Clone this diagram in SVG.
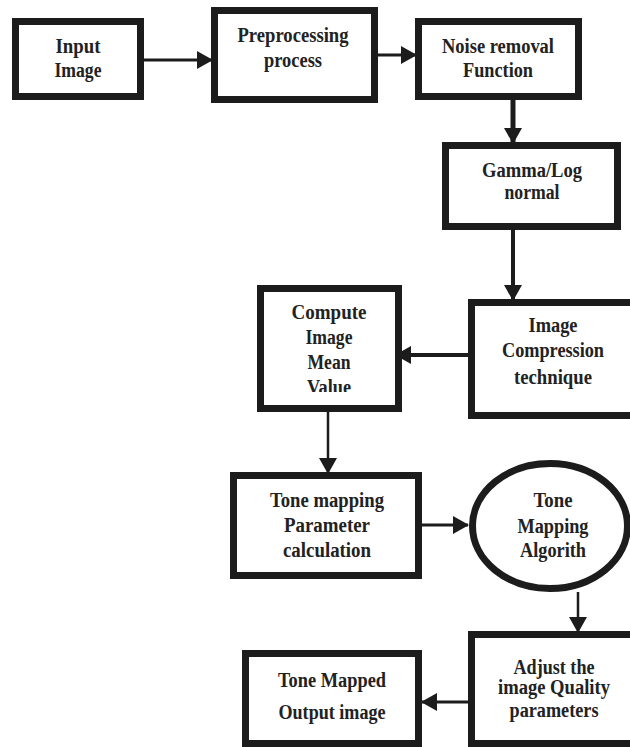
<svg xmlns="http://www.w3.org/2000/svg" width="630" height="747" viewBox="0 0 630 747">
<style>
.box{fill:#fff;stroke:#1c1c1c;stroke-width:7}
.lbl{font-family:"Liberation Serif","Times New Roman",serif;font-weight:bold;font-size:20px;fill:#222;text-anchor:middle}
.con{stroke:#1c1c1c;fill:none}
</style>
<defs>
<marker id="ah" viewBox="0 0 16 18" refX="15" refY="9" markerWidth="16" markerHeight="18" markerUnits="userSpaceOnUse" orient="auto">
<path d="M0,0 L16,9 L0,18 z" fill="#1c1c1c"/>
</marker>
<clipPath id="clipValue"><rect x="260" y="290" width="140" height="102"/></clipPath>
</defs>
<rect width="630" height="747" fill="#fff"/>
<g id="connectors">
<line class="con" x1="144" y1="60" x2="212" y2="60" stroke-width="3" marker-end="url(#ah)"/>
<line class="con" x1="378" y1="55" x2="416" y2="55" stroke-width="3" marker-end="url(#ah)"/>
<line class="con" x1="513" y1="100" x2="513" y2="143" stroke-width="5" marker-end="url(#ah)"/>
<line class="con" x1="513" y1="229" x2="513" y2="300" stroke-width="4" marker-end="url(#ah)"/>
<line class="con" x1="468" y1="355" x2="396" y2="355" stroke-width="4" marker-end="url(#ah)"/>
<line class="con" x1="328" y1="412" x2="328" y2="473" stroke-width="2.5" marker-end="url(#ah)"/>
<line class="con" x1="422" y1="525" x2="468" y2="525" stroke-width="3" marker-end="url(#ah)"/>
<line class="con" x1="578" y1="592" x2="578" y2="632" stroke-width="2.5" marker-end="url(#ah)"/>
<line class="con" x1="468" y1="702" x2="422" y2="702" stroke-width="3" marker-end="url(#ah)"/>
</g>
<g id="input">
<rect class="box" x="15.5" y="21.5" width="125" height="75"/>
<text class="lbl" x="78" y="53" textLength="45" lengthAdjust="spacingAndGlyphs">Input</text>
<text class="lbl" x="78" y="77" textLength="47" lengthAdjust="spacingAndGlyphs">Image</text>
</g>
<g id="preprocessing">
<rect class="box" x="214.5" y="10.5" width="160" height="89"/>
<text class="lbl" x="293" y="42" textLength="111" lengthAdjust="spacingAndGlyphs">Preprocessing</text>
<text class="lbl" x="293" y="67" textLength="58" lengthAdjust="spacingAndGlyphs">process</text>
</g>
<g id="noise">
<rect class="box" x="418.5" y="21.5" width="160" height="75"/>
<text class="lbl" x="498" y="53" textLength="112" lengthAdjust="spacingAndGlyphs">Noise removal</text>
<text class="lbl" x="498" y="77" textLength="70" lengthAdjust="spacingAndGlyphs">Function</text>
</g>
<g id="gamma">
<rect class="box" x="445.5" y="145.5" width="172" height="81"/>
<text class="lbl" x="532" y="177" textLength="100" lengthAdjust="spacingAndGlyphs">Gamma/Log</text>
<text class="lbl" x="532" y="199" textLength="55" lengthAdjust="spacingAndGlyphs">normal</text>
</g>
<g id="compression">
<rect class="box" x="471.5" y="302.5" width="165" height="113"/>
<text class="lbl" x="553" y="332" textLength="49" lengthAdjust="spacingAndGlyphs">Image</text>
<text class="lbl" x="553" y="357" textLength="102" lengthAdjust="spacingAndGlyphs">Compression</text>
<text class="lbl" x="553" y="384" textLength="78" lengthAdjust="spacingAndGlyphs">technique</text>
</g>
<g id="compute">
<rect class="box" x="260.5" y="288.5" width="138" height="120"/>
<text class="lbl" x="329" y="319" textLength="75" lengthAdjust="spacingAndGlyphs">Compute</text>
<text class="lbl" x="329" y="344" textLength="47" lengthAdjust="spacingAndGlyphs">Image</text>
<text class="lbl" x="329" y="369" textLength="43" lengthAdjust="spacingAndGlyphs">Mean</text>
<text class="lbl" x="329" y="394" textLength="44" lengthAdjust="spacingAndGlyphs" clip-path="url(#clipValue)">Value</text>
</g>
<g id="toneparam">
<rect class="box" x="233.5" y="475.5" width="185" height="100"/>
<text class="lbl" x="327" y="507" textLength="114" lengthAdjust="spacingAndGlyphs">Tone mapping</text>
<text class="lbl" x="327" y="532" textLength="86" lengthAdjust="spacingAndGlyphs">Parameter</text>
<text class="lbl" x="327" y="557" textLength="88" lengthAdjust="spacingAndGlyphs">calculation</text>
</g>
<g id="algorithm">
<ellipse class="box" cx="550" cy="526" rx="77.5" ry="62.5"/>
<text class="lbl" x="553" y="507" textLength="39" lengthAdjust="spacingAndGlyphs">Tone</text>
<text class="lbl" x="553" y="533" textLength="71" lengthAdjust="spacingAndGlyphs">Mapping</text>
<text class="lbl" x="553" y="557" textLength="66" lengthAdjust="spacingAndGlyphs">Algorith</text>
</g>
<g id="adjust">
<rect class="box" x="471.5" y="634.5" width="165" height="109"/>
<text class="lbl" x="554" y="674" textLength="81" lengthAdjust="spacingAndGlyphs">Adjust the</text>
<text class="lbl" x="554" y="694" textLength="112" lengthAdjust="spacingAndGlyphs">image Quality</text>
<text class="lbl" x="554" y="717" textLength="89" lengthAdjust="spacingAndGlyphs">parameters</text>
</g>
<g id="output">
<rect class="box" x="245.5" y="653.5" width="173" height="90"/>
<text class="lbl" x="332" y="687" textLength="108" lengthAdjust="spacingAndGlyphs">Tone Mapped</text>
<text class="lbl" x="332" y="719" textLength="107" lengthAdjust="spacingAndGlyphs">Output image</text>
</g>
</svg>
